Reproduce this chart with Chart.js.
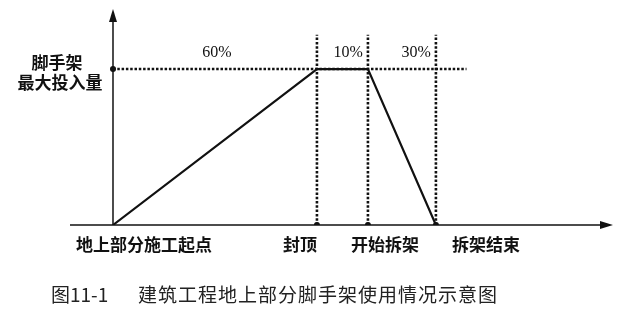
<!DOCTYPE html>
<html>
<head>
<meta charset="utf-8">
<script src="https://cdn.jsdelivr.net/npm/chart.js@4"></script>
<style>
    html, body { margin: 0; padding: 0; background: #fff; }
</style>
</head>
<body>
<canvas id="scaffoldChart" width="620" height="318"></canvas>
<script>
// stages along the time axis (arbitrary time units)
const stages = ['地上部分施工起点', '封顶', '开始拆架', '拆架结束'];
const stageTimes = [0, 60, 75, 95];
// scaffold amount, 1 = 最大投入量
const scaffoldLevel = [0, 1, 1, 0];
const shares = ['60%', '10%', '30%'];
const yLabel = ['脚手架', '最大投入量'];
const caption = ['图11-1', '建筑工程地上部分脚手架使用情况示意图'];
const guideTop = 1.22;
const guideRight = 104;

const ink = '#111';
const cjk = '"Noto Sans CJK SC", sans-serif';

const datasets = [];
datasets.push({
    data: stageTimes.map((t, i) => ({ x: t, y: scaffoldLevel[i] })),
    borderColor: ink,
    borderWidth: 2.2,
    pointRadius: 0
});
datasets.push({
    data: [{ x: 0, y: 1 }, { x: guideRight, y: 1 }],
    borderColor: ink,
    borderWidth: 2.6,
    borderDash: [2.5, 1.8],
    pointRadius: 0
});
stageTimes.slice(1).forEach(t => {
    datasets.push({
        data: [{ x: t, y: 0 }, { x: t, y: guideTop }],
        borderColor: ink,
        borderWidth: 2.6,
        borderDash: [2.5, 1.8],
        pointRadius: 0
    });
});
datasets.push({
    data: [{ x: 0, y: 1 }].concat(stageTimes.slice(1).map(t => ({ x: t, y: 0 }))),
    showLine: false,
    pointRadius: 3,
    pointBackgroundColor: ink,
    pointBorderWidth: 0
});

const axesPlugin = {
    id: 'axes',
    beforeDatasetsDraw(chart) {
        const { ctx, chartArea, scales } = chart;
        const x0 = scales.x.getPixelForValue(0);
        const y0 = scales.y.getPixelForValue(0);
        ctx.save();
        ctx.strokeStyle = ink;
        ctx.fillStyle = ink;
        ctx.lineWidth = 1.5;
        // x axis
        ctx.beginPath();
        ctx.moveTo(chartArea.left, y0);
        ctx.lineTo(chartArea.right - 8, y0);
        ctx.stroke();
        ctx.beginPath();
        ctx.moveTo(chartArea.right, y0);
        ctx.lineTo(chartArea.right - 13, y0 - 4);
        ctx.lineTo(chartArea.right - 13, y0 + 4);
        ctx.closePath();
        ctx.fill();
        // y axis
        ctx.beginPath();
        ctx.moveTo(x0, y0);
        ctx.lineTo(x0, chartArea.top + 8);
        ctx.stroke();
        ctx.beginPath();
        ctx.moveTo(x0, chartArea.top);
        ctx.lineTo(x0 - 4, chartArea.top + 13);
        ctx.lineTo(x0 + 4, chartArea.top + 13);
        ctx.closePath();
        ctx.fill();
        ctx.restore();
    },
    afterDraw(chart) {
        const { ctx, scales } = chart;
        const px = v => scales.x.getPixelForValue(v);
        const y0 = scales.y.getPixelForValue(0);
        ctx.save();
        ctx.fillStyle = ink;
        ctx.textBaseline = 'middle';

        // stage names under the x axis
        ctx.font = 'bold 17px ' + cjk;
        ctx.textAlign = 'center';
        const offsets = [31, -17, 17, 50];
        stages.forEach((s, i) => {
            ctx.fillText(s, px(stageTimes[i]) + offsets[i], y0 + 20);
        });

        // share of the time for each phase
        ctx.font = '16px "Liberation Serif", serif';
        const yPct = scales.y.getPixelForValue(1) - 16;
        ctx.textAlign = 'center';
        ctx.fillText(shares[0], (px(stageTimes[0]) + px(stageTimes[1])) / 2 + 2, yPct);
        ctx.textAlign = 'right';
        ctx.fillText(shares[1], px(stageTimes[2]) - 5, yPct);
        ctx.fillText(shares[2], px(stageTimes[3]) - 5, yPct);

        // y label
        ctx.font = 'bold 17px ' + cjk;
        ctx.textAlign = 'center';
        const yMax = scales.y.getPixelForValue(1);
        ctx.fillText(yLabel[0], 57, yMax - 6);
        ctx.fillText(yLabel[1], 60, yMax + 14);

        // caption, one glyph at a time on a fixed pitch
        ctx.fillStyle = '#222';
        ctx.textAlign = 'left';
        ctx.font = '19px ' + cjk;
        ctx.fillText(caption[0], 51, 295);
        Array.from(caption[1]).forEach((c, i) => {
            ctx.fillText(c, 138 + i * 20, 295);
        });
        ctx.restore();
    }
};

new Chart(document.getElementById('scaffoldChart'), {
    type: 'line',
    data: { datasets: datasets },
    options: {
        responsive: false,
        animation: false,
        layout: { padding: { left: 70, right: 7, top: 9, bottom: 93 } },
        plugins: { legend: { display: false }, tooltip: { enabled: false } },
        scales: {
            x: { type: 'linear', display: false, min: -12.65, max: 147.1 },
            y: { display: false, min: 0, max: 1.385 }
        }
    },
    plugins: [axesPlugin]
});
</script>
</body>
</html>
